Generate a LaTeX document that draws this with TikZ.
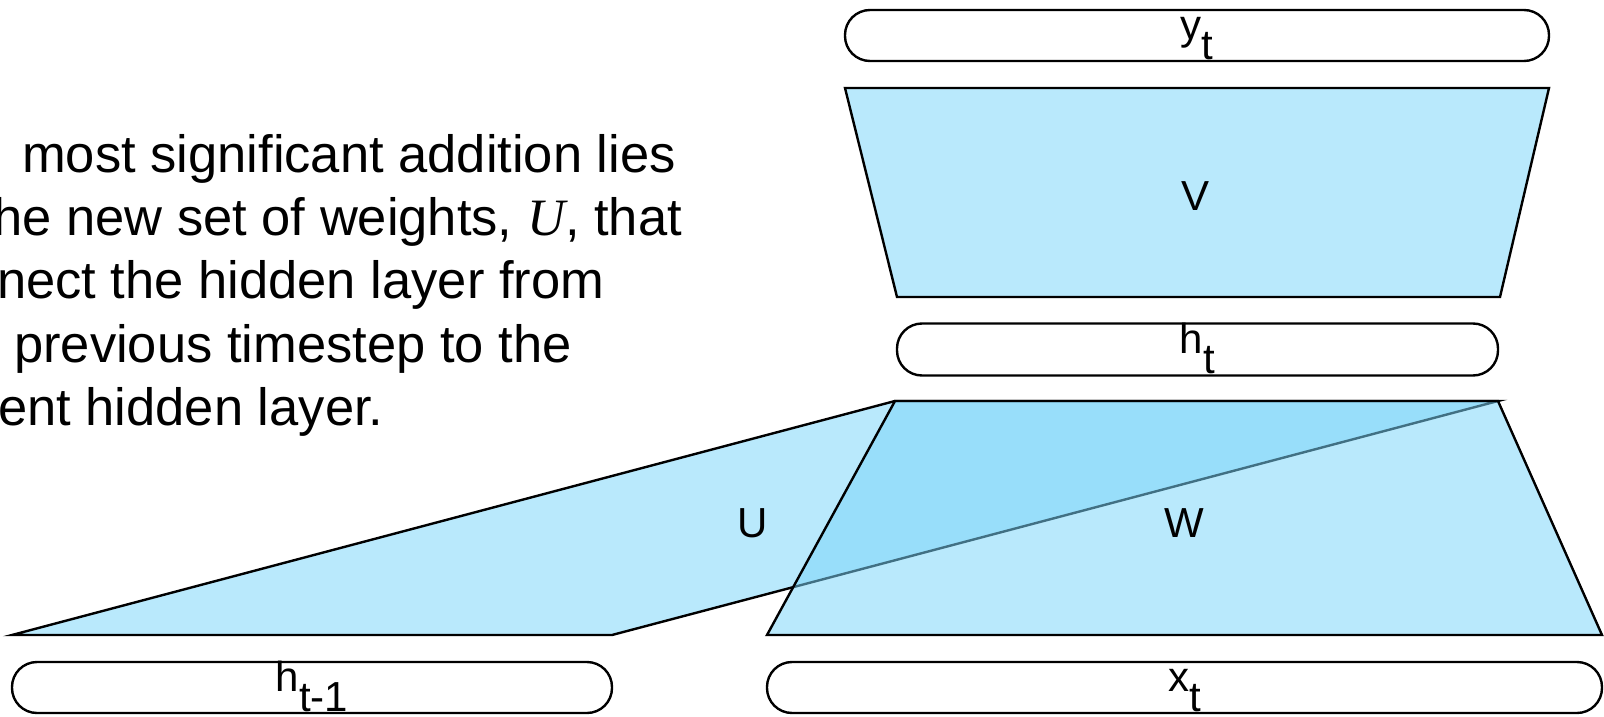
\documentclass[tikz,border=0pt]{standalone}
\usepackage{fontspec}
\setmainfont{Liberation Sans}
\newfontfamily\uitalic{Liberation Serif}
\usetikzlibrary{calc}
\definecolor{lblue}{RGB}{185,233,252}
\definecolor{wblue}{RGB}{123,213,249}
\tikzset{
  layerbox/.style={draw=black, line width=2.4pt, rounded corners=25pt, rectangle, minimum height=51pt, inner sep=0pt, fill=white},
  lbl/.style={font=\fontsize{42}{42}\selectfont, inner sep=0pt, anchor=base},
  weight/.style={draw=black, line width=2.4pt, line join=miter},
  para/.style={font=\fontsize{52.5}{52.5}\selectfont, inner sep=0pt, anchor=base west},
}
\begin{document}
\begin{tikzpicture}[x=1pt,y=-1pt]
\useasboundingbox (0,0) rectangle (1604,717);
\clip (0,0) rectangle (1604,717);

% paragraph (left part clipped)
\node[para] (p1) at (22,172) {most significant addition lies};
\node[para] (p2) at (-7,235) {he new set of weights, {\uitalic\itshape U}, that};
\node[para] (p3) at (-3,298) {nect the hidden layer from};
\node[para] (p4) at (14,362) {previous timestep to the};
\node[para] (p5) at (-2,425) {ent hidden layer.};

% layer boxes
\node[layerbox, minimum width=704pt] (yt) at (1197,35.5) {};
\node[layerbox, minimum width=601pt, minimum height=52pt] (ht) at (1197.5,349.5) {};
\node[layerbox, minimum width=600pt] (hp) at (312,687.5) {};
\node[layerbox, minimum width=835pt] (xt) at (1184.5,687.5) {};

% box labels
\node[lbl] (ytl) at ($(yt.north)+(0,31)$) {y\raisebox{-20pt}{t}};
\node[lbl] (htl) at ($(ht.north)+(0,31)$) {h\raisebox{-20pt}{t}};
\node[lbl] (hpl) at ($(hp.north)+(0,31)$) {h\raisebox{-20pt}{t-1}};
\node[lbl] (xtl) at ($(xt.north)+(0,31)$) {x\raisebox{-20pt}{t}};

% V weights
\coordinate (Vtl) at (845,88);
\coordinate (Vtr) at (1549,88);
\coordinate (Vbr) at (1500,297);
\coordinate (Vbl) at (897,297);
\draw[weight, fill=lblue] (Vtl) -- (Vtr) -- (Vbr) -- (Vbl) -- cycle;
\node[lbl] (Vlab) at (1195,210) {V};

% U weights
\coordinate (Ubl) at (12,635);
\coordinate (Ubr) at (612,635);
\coordinate (Utr) at (1498,401);
\coordinate (Utl) at (895,401);
\draw[weight, fill=lblue] (Ubl) -- (Ubr) -- (Utr) -- (Utl) -- cycle;

% W weights (translucent over U)
\coordinate (Wtl) at (895,401);
\coordinate (Wtr) at (1498,401);
\coordinate (Wbr) at (1602,635);
\coordinate (Wbl) at (767,635);
\fill[wblue, fill opacity=0.53] (Wtl) -- (Wtr) -- (Wbr) -- (Wbl) -- cycle;
\draw[weight] (Wtl) -- (Wtr) -- (Wbr) -- (Wbl) -- cycle;

\node[lbl] (Ulab) at (753,537) {U};
\node[lbl] (Wlab) at (1184,537) {W};
\end{tikzpicture}
\end{document}
